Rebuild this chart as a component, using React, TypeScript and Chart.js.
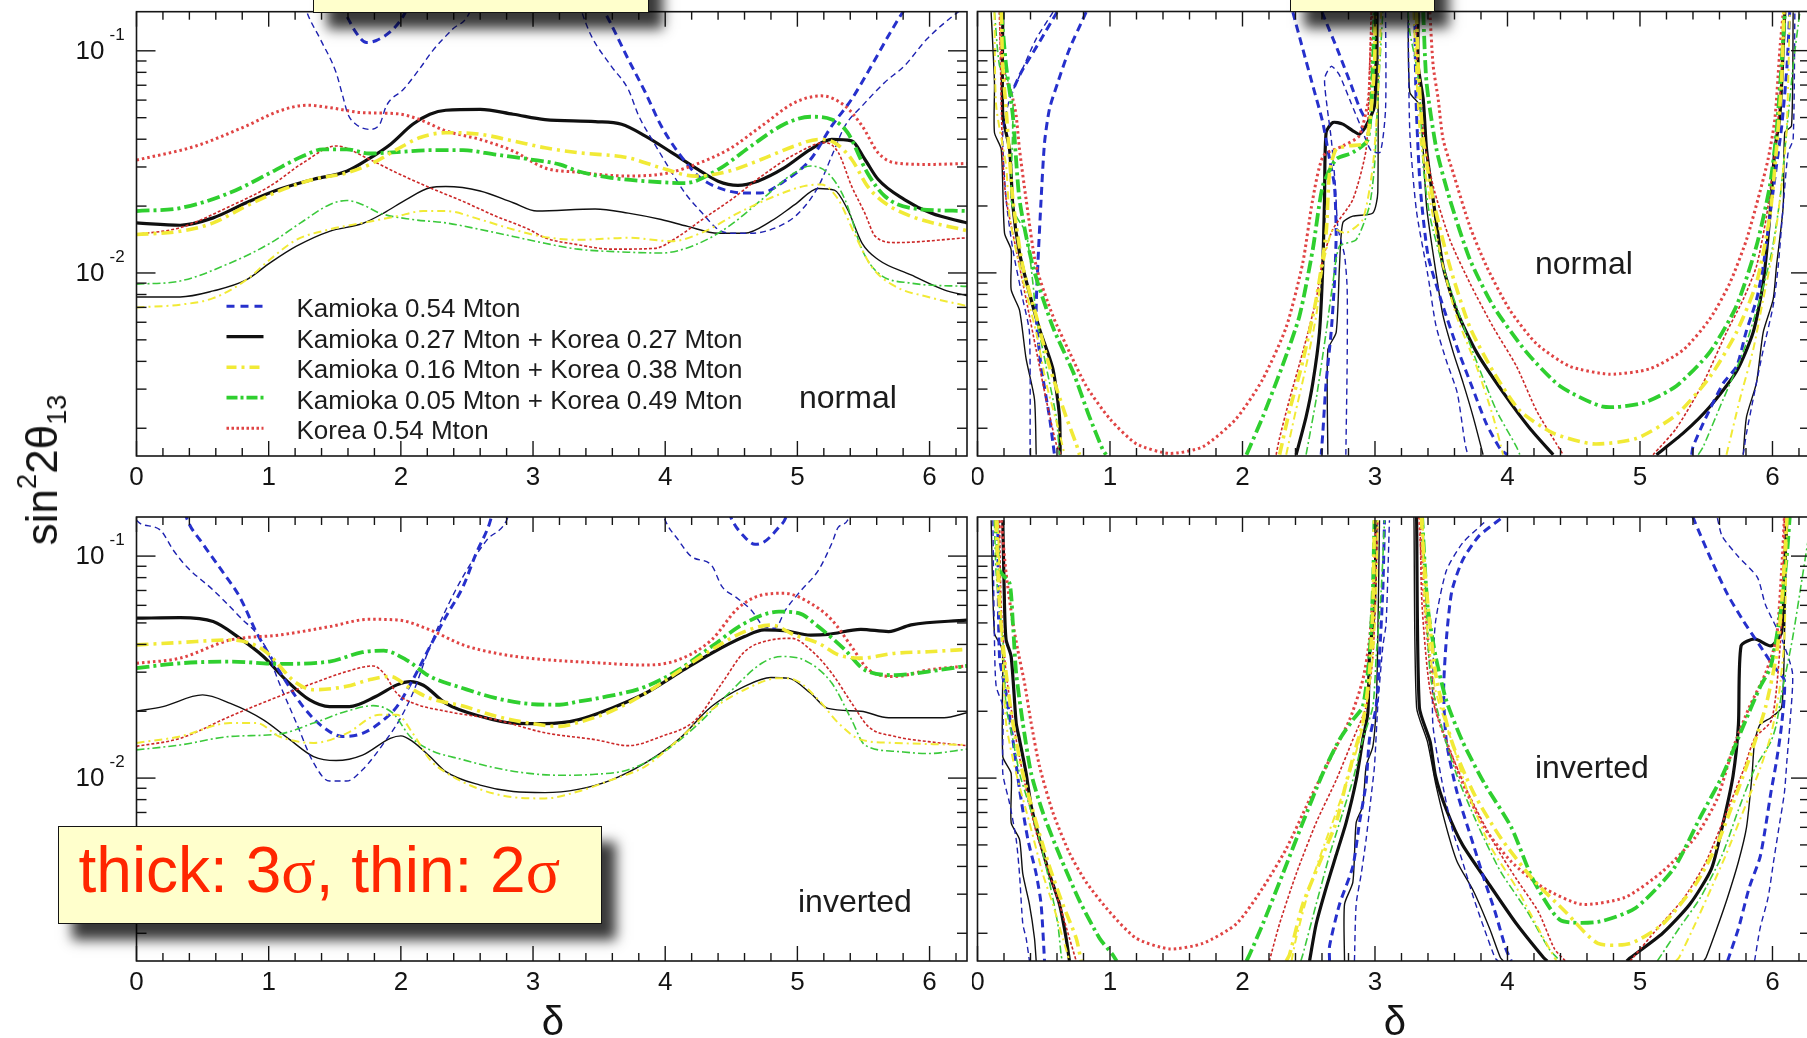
import React, { useEffect, useRef } from "react";
import { Chart, registerables } from "chart.js";
Chart.register(...registerables);

type P = [number, number];

// ---------- axes / ticks ----------
const X_RANGE: [number, number] = [0, 2 * Math.PI];
const Y_RANGE: [number, number] = [0.0015, 0.15];
const X_MAJOR = [0, 1, 2, 3, 4, 5, 6];
const X_TICK_LABELS = ["0", "1", "2", "3", "4", "5", "6"];
const X_MINOR_STEP = 0.2;
const Y_DECADES = [0.01, 0.1];
const Y_EXP_LABELS = ["-2", "-1"];
const Y_MINOR = [0.002, 0.003, 0.004, 0.005, 0.006, 0.007, 0.008, 0.009, 0.02, 0.03, 0.04, 0.05, 0.06, 0.07, 0.08, 0.09];

const LEGEND_LABELS = [
  "Kamioka 0.54 Mton",
  "Kamioka 0.27 Mton + Korea 0.27 Mton",
  "Kamioka 0.16 Mton + Korea 0.38 Mton",
  "Kamioka 0.05 Mton + Korea 0.49 Mton",
  "Korea 0.54 Mton",
];

// ---------- normal hierarchy, left: sin^2 2theta13 vs delta ----------
const nL_kam3a: P[] = [[1.5,0.18],[1.6,0.14],[1.66,0.121],[1.74,0.109],[1.81,0.111],[1.94,0.125],[2.02,0.144],[2.1,0.18]];
const nL_kam3b: P[] = [[3.45,0.18],[3.54,0.15],[3.72,0.0917],[3.85,0.0649],[3.97,0.0459],[4.1,0.0348],[4.25,0.0273],[4.4,0.0242],[4.6,0.0229],[4.72,0.0229],[4.9,0.0259],[5.1,0.0325],[5.26,0.0459],[5.41,0.0605],[5.56,0.0856],[5.7,0.12],[5.8,0.15],[5.9,0.18]];
const nL_kam2a: P[] = [[1.25,0.18],[1.29,0.149],[1.39,0.113],[1.51,0.0798],[1.56,0.0627],[1.6,0.0518],[1.66,0.0467],[1.76,0.0443],[1.84,0.0467],[1.89,0.0565],[2.02,0.0671],[2.14,0.0827],[2.24,0.1],[2.39,0.125],[2.52,0.149],[2.56,0.18]];
const nL_kam2b: P[] = [[3.33,0.18],[3.37,0.149],[3.44,0.117],[3.59,0.0856],[3.72,0.0671],[3.8,0.0509],[3.9,0.0399],[4.02,0.0303],[4.15,0.0229],[4.28,0.0186],[4.4,0.0157],[4.5,0.0151],[4.65,0.0151],[4.86,0.0162],[5.01,0.0186],[5.16,0.0246],[5.26,0.0336],[5.36,0.0459],[5.49,0.0565],[5.66,0.072],[5.81,0.0856],[5.98,0.113],[6.18,0.144],[6.283,0.16]];
const nL_blk3: P[] = [[0,0.0168],[0.33,0.0164],[0.58,0.0177],[0.83,0.0207],[1.08,0.0238],[1.34,0.0264],[1.59,0.0287],[1.76,0.0327],[1.92,0.0379],[2.09,0.0467],[2.22,0.0518],[2.34,0.054],[2.6,0.0545],[2.85,0.0518],[3.09,0.049],[3.47,0.048],[3.67,0.0467],[3.85,0.0413],[4.05,0.0348],[4.25,0.0292],[4.4,0.0259],[4.55,0.0248],[4.7,0.0259],[4.9,0.0297],[5.1,0.036],[5.26,0.0399],[5.41,0.0393],[5.51,0.0325],[5.61,0.0264],[5.81,0.0214],[6.01,0.0186],[6.283,0.0168]];
const nL_blk2: P[] = [[0,0.0078],[0.33,0.0078],[0.58,0.0083],[0.83,0.0093],[1.01,0.0111],[1.21,0.0132],[1.46,0.0154],[1.71,0.0167],[1.87,0.0186],[2.04,0.0214],[2.22,0.0242],[2.34,0.0245],[2.6,0.0234],[2.85,0.0207],[3.03,0.019],[3.47,0.0194],[3.72,0.0186],[3.97,0.0174],[4.17,0.0162],[4.4,0.0151],[4.6,0.0151],[4.8,0.0171],[4.98,0.0203],[5.16,0.024],[5.28,0.0236],[5.38,0.0193],[5.49,0.0136],[5.61,0.0115],[5.86,0.0098],[6.11,0.0084],[6.283,0.0079]];
const nL_yel3: P[] = [[0,0.0149],[0.33,0.0154],[0.58,0.0168],[0.83,0.02],[1.08,0.0234],[1.34,0.0264],[1.59,0.0282],[1.79,0.0313],[1.97,0.036],[2.14,0.0406],[2.34,0.0428],[2.6,0.0421],[2.85,0.0393],[3.09,0.0366],[3.34,0.0348],[3.72,0.033],[3.97,0.0297],[4.23,0.0273],[4.48,0.0287],[4.73,0.0325],[4.98,0.0373],[5.16,0.0399],[5.28,0.0386],[5.41,0.0325],[5.53,0.0246],[5.66,0.0207],[5.86,0.018],[6.283,0.0155]];
const nL_yel2: P[] = [[0,0.007],[0.33,0.0072],[0.58,0.0077],[0.83,0.0093],[1.01,0.0115],[1.21,0.0141],[1.46,0.0157],[1.71,0.0168],[1.97,0.018],[2.17,0.019],[2.34,0.019],[2.6,0.0174],[2.85,0.0157],[3.09,0.0145],[3.34,0.0141],[3.72,0.0144],[4.05,0.0139],[4.3,0.0154],[4.55,0.0186],[4.8,0.0218],[5.05,0.0246],[5.18,0.025],[5.31,0.0214],[5.43,0.0151],[5.56,0.0107],[5.74,0.0087],[5.99,0.0078],[6.283,0.0071]];
const nL_gre3: P[] = [[0,0.019],[0.33,0.0196],[0.71,0.023],[1.01,0.0282],[1.26,0.0336],[1.41,0.036],[1.59,0.036],[1.76,0.0345],[1.97,0.035],[2.22,0.0357],[2.47,0.0357],[2.72,0.0341],[2.97,0.0325],[3.2,0.0308],[3.34,0.0287],[3.59,0.0268],[3.85,0.0259],[4.15,0.0254],[4.4,0.0292],[4.65,0.0373],[4.9,0.0467],[5.1,0.0505],[5.26,0.0491],[5.38,0.0428],[5.53,0.0282],[5.66,0.0222],[5.86,0.0196],[6.283,0.019]];
const nL_gre2: P[] = [[0,0.0089],[0.33,0.0092],[0.71,0.0111],[1.01,0.0136],[1.26,0.0171],[1.46,0.0203],[1.59,0.0212],[1.71,0.0203],[1.84,0.0186],[2.09,0.0174],[2.34,0.0168],[2.6,0.0157],[2.85,0.0146],[3.09,0.0136],[3.34,0.0128],[3.72,0.0124],[3.97,0.0123],[4.23,0.0134],[4.48,0.0162],[4.73,0.0214],[4.96,0.0278],[5.1,0.0303],[5.23,0.0282],[5.36,0.0214],[5.49,0.0127],[5.61,0.01],[5.86,0.009],[6.283,0.0087]];
const nL_kor3: P[] = [[0,0.0322],[0.45,0.0373],[0.83,0.0459],[1.08,0.0536],[1.29,0.0569],[1.46,0.0555],[1.71,0.0527],[1.97,0.0521],[2.14,0.0491],[2.34,0.0436],[2.6,0.0399],[2.85,0.0354],[3.09,0.0297],[3.34,0.0284],[3.72,0.0273],[4.02,0.0282],[4.23,0.0308],[4.48,0.036],[4.73,0.0459],[4.98,0.0585],[5.18,0.0627],[5.36,0.0565],[5.49,0.0459],[5.61,0.0348],[5.74,0.0313],[5.99,0.0308],[6.283,0.0311]];
const nL_kor2: P[] = [[0,0.0149],[0.33,0.016],[0.71,0.02],[1.01,0.0246],[1.26,0.0313],[1.51,0.0373],[1.76,0.0325],[1.97,0.0282],[2.22,0.0242],[2.47,0.021],[2.72,0.018],[2.97,0.0157],[3.09,0.0144],[3.34,0.0134],[3.59,0.0128],[3.92,0.0129],[4.1,0.0146],[4.28,0.0174],[4.5,0.0214],[4.73,0.0273],[4.98,0.0342],[5.21,0.0386],[5.31,0.0348],[5.41,0.0246],[5.51,0.0186],[5.59,0.0146],[5.74,0.0137],[6.283,0.0144]];

// ---------- inverted hierarchy, left ----------
const iL_kam3a: P[] = [[0.34,0.18],[0.38,0.148],[0.5,0.114],[0.66,0.0836],[0.78,0.0656],[0.91,0.045],[1.06,0.0318],[1.26,0.021],[1.41,0.017],[1.56,0.0154],[1.71,0.0159],[1.87,0.0183],[1.97,0.021],[2.09,0.0277],[2.22,0.0391],[2.34,0.0533],[2.47,0.0728],[2.57,0.103],[2.67,0.14],[2.72,0.18]];
const iL_kam3b: P[] = [[4.45,0.18],[4.5,0.148],[4.6,0.122],[4.68,0.113],[4.75,0.116],[4.86,0.135],[4.91,0.148],[4.95,0.18]];
const iL_kam2a: P[] = [[0,0.145],[0.03,0.14],[0.18,0.131],[0.28,0.106],[0.38,0.0895],[0.58,0.0703],[0.78,0.0533],[0.96,0.0405],[1.08,0.0268],[1.21,0.0177],[1.34,0.0117],[1.46,0.0097],[1.59,0.0097],[1.71,0.0109],[1.89,0.0149],[1.99,0.0183],[2.09,0.0241],[2.22,0.0391],[2.34,0.0572],[2.47,0.0808],[2.65,0.118],[2.8,0.145],[2.85,0.18]];
const iL_kam2b: P[] = [[3.95,0.18],[4.0,0.145],[4.1,0.118],[4.2,0.0993],[4.35,0.091],[4.43,0.0728],[4.53,0.0656],[4.65,0.0572],[4.75,0.0481],[4.83,0.0473],[4.91,0.0572],[5.03,0.0703],[5.16,0.0865],[5.26,0.114],[5.31,0.135],[5.38,0.145],[5.42,0.18]];
const iL_blk3: P[] = [[0,0.0525],[0.33,0.0528],[0.58,0.0507],[0.78,0.0427],[0.96,0.0353],[1.13,0.0277],[1.31,0.0225],[1.46,0.021],[1.61,0.021],[1.81,0.0233],[1.97,0.0263],[2.07,0.0272],[2.17,0.0262],[2.34,0.0217],[2.6,0.019],[2.85,0.0177],[3.09,0.0176],[3.34,0.0183],[3.59,0.0206],[3.85,0.0241],[4.1,0.0297],[4.35,0.0365],[4.6,0.0434],[4.75,0.0465],[4.9,0.0462],[5.1,0.0441],[5.23,0.0444],[5.48,0.0468],[5.69,0.0457],[5.86,0.049],[6.283,0.0515]];
const iL_blk2: P[] = [[0,0.02],[0.2,0.021],[0.5,0.0237],[0.71,0.0217],[0.96,0.0183],[1.16,0.0149],[1.34,0.0125],[1.51,0.012],[1.71,0.0127],[1.92,0.0151],[2.0,0.0155],[2.09,0.0146],[2.22,0.0125],[2.34,0.0107],[2.6,0.0093],[2.85,0.0087],[3.09,0.0086],[3.34,0.0089],[3.59,0.0098],[3.85,0.0117],[4.1,0.0149],[4.35,0.021],[4.6,0.0259],[4.8,0.0284],[4.93,0.0282],[5.1,0.0241],[5.23,0.0206],[5.48,0.02],[5.69,0.0187],[6.11,0.0187],[6.283,0.0197]];
const iL_yel3: P[] = [[0,0.0398],[0.33,0.0408],[0.71,0.0419],[0.96,0.0378],[1.21,0.0268],[1.34,0.025],[1.59,0.0259],[1.76,0.0277],[1.92,0.0287],[2.07,0.0254],[2.22,0.0229],[2.47,0.0211],[2.72,0.019],[2.97,0.0177],[3.2,0.0171],[3.34,0.0178],[3.59,0.02],[3.85,0.0241],[4.1,0.0302],[4.35,0.0378],[4.6,0.0457],[4.8,0.0489],[4.98,0.0441],[5.16,0.0405],[5.31,0.0359],[5.48,0.0347],[5.74,0.0365],[5.99,0.0371],[6.283,0.038]];
const iL_yel2: P[] = [[0,0.0144],[0.33,0.0154],[0.71,0.0177],[0.91,0.0177],[1.08,0.0154],[1.34,0.0144],[1.59,0.0159],[1.84,0.0193],[1.97,0.0193],[2.09,0.0159],[2.22,0.0121],[2.34,0.0106],[2.6,0.0089],[2.85,0.0082],[3.09,0.0081],[3.34,0.0087],[3.59,0.0098],[3.85,0.0113],[4.1,0.0149],[4.35,0.0203],[4.6,0.025],[4.86,0.0282],[4.98,0.0277],[5.16,0.0225],[5.31,0.0177],[5.48,0.0149],[5.74,0.0144],[6.283,0.0141]];
const iL_gre3: P[] = [[0,0.0313],[0.33,0.0329],[0.71,0.0335],[1.08,0.0327],[1.46,0.0335],[1.71,0.0369],[1.87,0.0375],[2.04,0.0341],[2.22,0.0287],[2.47,0.0254],[2.72,0.0229],[2.97,0.0216],[3.2,0.0214],[3.34,0.0221],[3.59,0.0235],[3.85,0.0258],[4.1,0.0307],[4.35,0.0391],[4.6,0.0498],[4.86,0.0562],[5.01,0.0553],[5.16,0.048],[5.36,0.0378],[5.51,0.0307],[5.74,0.0291],[5.99,0.0302],[6.283,0.032]];
const iL_gre2: P[] = [[0,0.0134],[0.33,0.0141],[0.71,0.0154],[1.08,0.0158],[1.34,0.0177],[1.59,0.02],[1.79,0.0212],[1.94,0.0196],[2.07,0.0154],[2.22,0.0134],[2.47,0.0121],[2.72,0.0111],[2.97,0.0105],[3.2,0.0103],[3.47,0.0104],[3.72,0.0109],[3.97,0.0129],[4.23,0.0171],[4.48,0.0241],[4.73,0.0329],[4.88,0.0353],[5.06,0.0338],[5.26,0.0268],[5.41,0.0183],[5.51,0.0141],[5.74,0.0132],[5.99,0.0129],[6.283,0.0135]];
const iL_kor3: P[] = [[0,0.0329],[0.33,0.0347],[0.71,0.0419],[1.08,0.0441],[1.46,0.0481],[1.76,0.0519],[1.97,0.0516],[2.22,0.0465],[2.47,0.0398],[2.72,0.0365],[2.97,0.0347],[3.2,0.0338],[3.47,0.0331],[3.85,0.0323],[4.1,0.0341],[4.35,0.0419],[4.55,0.0582],[4.73,0.0668],[4.9,0.068],[5.08,0.0623],[5.26,0.0516],[5.41,0.0391],[5.54,0.0307],[5.74,0.0287],[5.99,0.0307],[6.283,0.032]];
const iL_kor2: P[] = [[0,0.0139],[0.33,0.0151],[0.71,0.019],[1.01,0.0225],[1.34,0.0268],[1.59,0.0302],[1.79,0.032],[1.87,0.0297],[1.97,0.0241],[2.09,0.0218],[2.34,0.02],[2.72,0.0183],[3.09,0.016],[3.47,0.0149],[3.72,0.014],[3.97,0.0154],[4.23,0.0183],[4.43,0.0268],[4.6,0.0371],[4.8,0.0419],[4.96,0.0426],[5.1,0.0378],[5.26,0.0297],[5.41,0.0218],[5.54,0.017],[5.74,0.0154],[5.99,0.0146],[6.283,0.014]];

// ---------- normal hierarchy, right (contours) ----------
const nR_kam3a: P[] = [[0.82,0.149],[0.694,0.1017],[0.606,0.0719],[0.543,0.0546],[0.506,0.0386],[0.48,0.0214],[0.455,0.0107],[0.443,0.0064],[0.48,0.0038],[0.543,0.00225],[0.581,0.00152]];
const nR_kam3a2: P[] = [[0.6,0.149],[0.47,0.11],[0.33,0.08],[0.26,0.065]];
const nR_kam3b: P[] = [[2.38,0.149],[2.455,0.1017],[2.531,0.0695],[2.606,0.0475],[2.657,0.0325],[2.694,0.0246],[2.707,0.0151],[2.694,0.009],[2.669,0.0054],[2.631,0.0032],[2.606,0.0019],[2.594,0.00152]];
const nR_kam3b2: P[] = [[2.6,0.149],[2.72,0.1],[2.82,0.07],[2.88,0.056],[2.92,0.05]];
const nR_kam3c: P[] = [[3.3,0.149],[3.31,0.06],[3.34,0.025],[3.4,0.012],[3.5,0.0075],[3.62,0.0046],[3.73,0.0031],[3.84,0.0021],[3.95,0.0016],[4.0,0.00152]];
const nR_kam3d: P[] = [[5.39,0.00152],[5.4,0.00165],[5.5,0.00225],[5.63,0.0032],[5.73,0.0038],[5.8,0.0054],[5.88,0.0076],[5.93,0.0107],[5.98,0.018],[6.03,0.0303],[6.07,0.0459],[6.11,0.0856],[6.13,0.149]];
const nR_kam2a: P[] = [[0.57,0.149],[0.443,0.113],[0.317,0.077],[0.242,0.0605],[0.191,0.0428],[0.216,0.0214],[0.267,0.0127],[0.342,0.0076],[0.392,0.0054],[0.397,0.00152]];
const nR_kam2b: P[] = [[3.08,0.149],[3.08,0.055],[3.04,0.035],[2.97,0.0355],[2.89,0.046],[2.82,0.058],[2.73,0.078],[2.67,0.085],[2.62,0.075],[2.64,0.055],[2.67,0.04],[2.7,0.025],[2.72,0.016],[2.77,0.012],[2.79,0.0085],[2.79,0.004],[2.78,0.00152]];
const nR_kam2c: P[] = [[3.25,0.149],[3.263,0.0428],[3.313,0.019],[3.4,0.0097],[3.46,0.0058],[3.54,0.004],[3.62,0.0029],[3.68,0.0017],[3.7,0.00152]];
const nR_kam2d: P[] = [[5.779,0.00152],[5.804,0.0019],[5.854,0.0027],[5.93,0.0045],[6.005,0.0071],[6.043,0.0107],[6.081,0.02],[6.118,0.0348],[6.156,0.0399],[6.169,0.149]];
const nR_blk3a: P[] = [[0.191,0.149],[0.191,0.0509],[0.242,0.036],[0.267,0.02],[0.317,0.0123],[0.392,0.0081],[0.468,0.0056],[0.569,0.0037],[0.619,0.00225],[0.624,0.00152]];
const nR_blk3b: P[] = [[2.405,0.00152],[2.48,0.00225],[2.531,0.0032],[2.581,0.0054],[2.606,0.0107],[2.619,0.0214],[2.631,0.0428],[2.682,0.0475],[2.757,0.0467],[2.833,0.0436],[2.883,0.0421],[2.933,0.0459],[2.996,0.0565],[3.009,0.1017],[3.014,0.149]];
const nR_blk3c: P[] = [[3.326,0.149],[3.326,0.0856],[3.364,0.0605],[3.389,0.036],[3.439,0.0214],[3.514,0.0107],[3.615,0.0068],[3.766,0.0044],[3.967,0.0029],[4.168,0.002],[4.345,0.00152]];
const nR_blk3d: P[] = [[5.124,0.00152],[5.326,0.0019],[5.527,0.0025],[5.728,0.0036],[5.854,0.0054],[5.93,0.009],[5.98,0.018],[6.018,0.036],[6.056,0.0509],[6.093,0.149]];
const nR_blk2a: P[] = [[0.103,0.149],[0.128,0.0719],[0.128,0.0428],[0.179,0.036],[0.204,0.0151],[0.254,0.0127],[0.254,0.0084],[0.317,0.0068],[0.367,0.0041],[0.43,0.0027],[0.443,0.00152]];
const nR_blk2b: P[] = [[2.644,0.00152],[2.644,0.0045],[2.707,0.0054],[2.732,0.0107],[2.757,0.0168],[2.833,0.018],[2.984,0.0186],[3.021,0.023],[3.021,0.149]];
const nR_blk2c: P[] = [[3.25,0.149],[3.263,0.0649],[3.338,0.0565],[3.389,0.02],[3.464,0.0097],[3.514,0.0064],[3.59,0.0044],[3.665,0.0032],[3.741,0.00225],[3.816,0.00152]];
const nR_blk2d: P[] = [[5.779,0.00152],[5.804,0.00225],[5.879,0.0032],[5.93,0.0054],[6.005,0.0076],[6.03,0.0107],[6.081,0.02],[6.093,0.0428],[6.144,0.0459],[6.156,0.149]];
const nR_yel3a: P[] = [[0.18,0.149],[0.19,0.0856],[0.216,0.0546],[0.267,0.0214],[0.342,0.0107],[0.443,0.0064],[0.543,0.0038],[0.669,0.00225],[0.745,0.0017],[0.77,0.00152]];
const nR_yel3b: P[] = [[2.28,0.00152],[2.355,0.0024],[2.455,0.004],[2.556,0.0076],[2.631,0.0151],[2.657,0.0282],[2.707,0.036],[2.808,0.0373],[2.933,0.0386],[2.996,0.0856],[3.0,0.149]];
const nR_yel3c: P[] = [[3.313,0.149],[3.326,0.0856],[3.364,0.0399],[3.439,0.0214],[3.565,0.0107],[3.716,0.0057],[3.892,0.0036],[4.093,0.0024],[4.345,0.0019],[4.646,0.0017],[4.974,0.0018],[5.275,0.0023],[5.527,0.0034],[5.728,0.0054],[5.879,0.009],[5.98,0.018],[6.03,0.036],[6.068,0.0719],[6.086,0.149]];
const nR_yel2a: P[] = [[0.128,0.149],[0.141,0.0565],[0.216,0.0303],[0.242,0.018],[0.317,0.0107],[0.443,0.0054],[0.518,0.0032],[0.619,0.0019],[0.657,0.00152]];
const nR_yel2b: P[] = [[2.33,0.00152],[2.392,0.00225],[2.48,0.0038],[2.556,0.0064],[2.606,0.0107],[2.682,0.0157],[2.782,0.0151],[2.908,0.0174],[2.984,0.0303],[3.021,0.0605],[3.047,0.149]];
const nR_yel2c: P[] = [[3.29,0.149],[3.338,0.0428],[3.414,0.0214],[3.514,0.0107],[3.615,0.0064],[3.766,0.0038],[3.892,0.00225],[3.967,0.00152]];
const nR_yel2d: P[] = [[5.653,0.00152],[5.754,0.0027],[5.854,0.0045],[5.93,0.0076],[6.005,0.0127],[6.056,0.0214],[6.106,0.0428],[6.131,0.149]];
const nR_gre3a: P[] = [[0.18,0.149],[0.216,0.0856],[0.267,0.0509],[0.317,0.0214],[0.418,0.0107],[0.569,0.0057],[0.72,0.0036],[0.845,0.00225],[0.946,0.0016],[0.97,0.00152]];
const nR_gre3b: P[] = [[2.03,0.00152],[2.153,0.00225],[2.3,0.0038],[2.43,0.0064],[2.53,0.0127],[2.606,0.0246],[2.707,0.0325],[2.833,0.0348],[2.946,0.0399],[2.984,0.0856],[2.996,0.149]];
const nR_gre3c: P[] = [[3.364,0.149],[3.389,0.0719],[3.464,0.036],[3.565,0.0214],[3.716,0.0115],[3.892,0.0071],[4.143,0.0044],[4.395,0.0031],[4.722,0.0025],[5.024,0.0026],[5.275,0.0031],[5.527,0.0044],[5.728,0.0071],[5.879,0.0132],[5.98,0.0246],[6.03,0.0428],[6.068,0.0856],[6.093,0.149]];
const nR_gre2a: P[] = [[0.128,0.149],[0.166,0.0856],[0.216,0.0771],[0.267,0.0605],[0.254,0.0214],[0.292,0.018],[0.367,0.0151],[0.418,0.009],[0.443,0.0064],[0.518,0.0038],[0.594,0.00225],[0.619,0.00152]];
const nR_gre2b: P[] = [[2.48,0.00152],[2.556,0.0027],[2.631,0.0054],[2.682,0.009],[2.732,0.0132],[2.858,0.0141],[2.958,0.02],[2.996,0.0303],[3.021,0.0605],[3.059,0.149]];
const nR_gre2c: P[] = [[3.25,0.149],[3.263,0.121],[3.313,0.0856],[3.338,0.0649],[3.364,0.0303],[3.414,0.018],[3.514,0.0107],[3.64,0.0064],[3.766,0.004],[3.917,0.0024],[4.068,0.00165],[4.093,0.00152]];
const nR_gre2d: P[] = [[5.44,0.00152],[5.477,0.00165],[5.628,0.0027],[5.779,0.0044],[5.904,0.0076],[5.993,0.0123],[6.056,0.0214],[6.106,0.0428],[6.156,0.0856],[6.206,0.149]];
const nR_kor3a: P[] = [[0.17,0.149],[0.19,0.0856],[0.267,0.0605],[0.292,0.0509],[0.317,0.036],[0.367,0.0214],[0.443,0.0107],[0.569,0.0064],[0.694,0.0044],[0.82,0.0031],[1.0,0.0022],[1.2,0.0017],[1.45,0.00154],[1.7,0.00165],[1.95,0.0022],[2.15,0.0033],[2.33,0.0057],[2.455,0.0111],[2.53,0.0214],[2.61,0.0336],[2.76,0.0373],[2.88,0.0413],[2.95,0.0605],[2.97,0.1017],[2.98,0.149]];
const nR_kor3b: P[] = [[3.414,0.149],[3.439,0.0856],[3.477,0.0605],[3.514,0.0399],[3.59,0.0282],[3.716,0.0162],[3.842,0.0107],[4.018,0.0068],[4.219,0.0048],[4.47,0.0038],[4.772,0.0035],[5.074,0.0037],[5.326,0.0045],[5.527,0.0062],[5.678,0.009],[5.804,0.0141],[5.904,0.023],[5.967,0.0325],[6.018,0.0492],[6.056,0.1017],[6.081,0.149]];
const nR_kor2a: P[] = [[0.166,0.149],[0.179,0.0605],[0.191,0.0325],[0.216,0.0214],[0.292,0.0127],[0.367,0.0076],[0.443,0.0045],[0.518,0.0027],[0.594,0.0017],[0.631,0.00152]];
const nR_kor2b: P[] = [[2.254,0.00152],[2.279,0.0018],[2.355,0.0027],[2.455,0.0044],[2.556,0.0076],[2.606,0.0115],[2.682,0.0157],[2.833,0.0214],[2.933,0.036],[2.958,0.08],[2.971,0.149]];
const nR_kor2c: P[] = [[3.313,0.149],[3.313,0.1017],[3.364,0.0428],[3.439,0.0246],[3.565,0.0141],[3.716,0.009],[3.892,0.0057],[4.068,0.0038],[4.219,0.0024],[4.37,0.0017],[4.42,0.00152]];
const nR_kor2d: P[] = [[5.099,0.00152],[5.275,0.002],[5.477,0.0032],[5.653,0.0054],[5.779,0.0076],[5.879,0.0107],[5.955,0.018],[6.005,0.0303],[6.056,0.0605],[6.093,0.149]];

// ---------- inverted hierarchy, right (contours) ----------
const iR_kam3a: P[] = [[0.153,0.145],[0.166,0.0353],[0.216,0.0241],[0.267,0.0149],[0.317,0.0089],[0.38,0.0053],[0.443,0.0037],[0.48,0.0027],[0.506,0.0015]];
const iR_kam3b: P[] = [[2.657,0.0015],[2.657,0.00175],[2.732,0.0027],[2.833,0.004],[2.883,0.0063],[2.933,0.0095],[2.958,0.0149],[3.009,0.021],[3.034,0.0353],[3.059,0.0703],[3.072,0.145]];
const iR_kam3c: P[] = [[3.947,0.147],[3.784,0.123],[3.661,0.0958],[3.58,0.0696],[3.539,0.0424],[3.518,0.0248],[3.539,0.0146],[3.62,0.0086],[3.743,0.005],[3.824,0.0035],[3.906,0.0025],[3.988,0.0017],[4.029,0.0015]];
const iR_kam3d: P[] = [[5.661,0.0015],[5.743,0.0021],[5.824,0.0032],[5.906,0.0044],[5.947,0.006],[5.988,0.0086],[6.029,0.0118],[6.069,0.0174],[6.09,0.0276],[6.008,0.0319],[5.906,0.0394],[5.784,0.0506],[5.661,0.0672],[5.539,0.0958],[5.416,0.1416],[5.396,0.152]];
const iR_kam2a: P[] = [[0.116,0.145],[0.128,0.0419],[0.141,0.0259],[0.191,0.021],[0.191,0.0105],[0.242,0.0077],[0.292,0.0053],[0.317,0.0037],[0.342,0.0022],[0.367,0.0019],[0.392,0.0015]];
const iR_kam2b: P[] = [[2.845,0.0015],[2.858,0.0027],[2.896,0.0037],[2.933,0.0053],[2.971,0.0083],[2.996,0.0113],[3.021,0.021],[3.059,0.0391],[3.084,0.0498],[3.109,0.145]];
const iR_kam2c: P[] = [[3.824,0.1416],[3.661,0.1145],[3.539,0.0861],[3.457,0.0506],[3.437,0.0297],[3.437,0.0174],[3.498,0.0102],[3.58,0.006],[3.661,0.0042],[3.743,0.0029],[3.824,0.0021],[3.906,0.00155],[3.93,0.0015]];
const iR_kam2d: P[] = [[5.865,0.0015],[5.906,0.0021],[5.967,0.0029],[6.008,0.0042],[6.049,0.006],[6.09,0.0086],[6.11,0.0122],[6.131,0.0174],[6.151,0.0297],[6.069,0.0424],[5.947,0.0604],[5.886,0.0802],[5.743,0.0993],[5.62,0.123],[5.58,0.152]];
const iR_blk3a: P[] = [[0.191,0.145],[0.204,0.0592],[0.216,0.0419],[0.254,0.0353],[0.292,0.0177],[0.317,0.0149],[0.367,0.0105],[0.405,0.0075],[0.468,0.0053],[0.543,0.0037],[0.619,0.0027],[0.669,0.0019],[0.694,0.0015]];
const iR_blk3b: P[] = [[2.506,0.0015],[2.556,0.0022],[2.631,0.0032],[2.707,0.0045],[2.782,0.0063],[2.858,0.0098],[2.908,0.0149],[2.946,0.0196],[2.958,0.0353],[2.996,0.0592],[3.009,0.145]];
const iR_blk3c: P[] = [[3.314,0.15],[3.335,0.0208],[3.416,0.0146],[3.457,0.0102],[3.539,0.0072],[3.661,0.005],[3.865,0.0033],[4.069,0.0022],[4.273,0.00155],[4.3,0.0015]];
const iR_blk3d: P[] = [[4.9,0.0015],[4.927,0.00155],[5.171,0.002],[5.376,0.0027],[5.539,0.0039],[5.62,0.006],[5.702,0.0102],[5.743,0.0174],[5.763,0.0394],[5.865,0.0424],[5.988,0.0394],[6.069,0.0454],[6.09,0.0861],[6.11,0.15]];
const iR_blk2a: P[] = [[0.103,0.145],[0.128,0.0449],[0.179,0.0391],[0.191,0.034],[0.191,0.0125],[0.254,0.0105],[0.254,0.0063],[0.317,0.0053],[0.342,0.0037],[0.392,0.0027],[0.43,0.0019],[0.443,0.0015]];
const iR_blk2b: P[] = [[2.77,0.0015],[2.77,0.0027],[2.833,0.0034],[2.858,0.0063],[2.908,0.0075],[2.933,0.0113],[2.984,0.0139],[3.009,0.021],[3.021,0.0419],[3.034,0.145]];
const iR_blk2c: P[] = [[3.294,0.15],[3.314,0.0208],[3.396,0.0146],[3.457,0.0095],[3.539,0.006],[3.62,0.0042],[3.743,0.0031],[3.865,0.0021],[3.947,0.00155],[3.97,0.0015]];
const iR_blk2d: P[] = [[5.48,0.0015],[5.498,0.00155],[5.58,0.0021],[5.661,0.0029],[5.743,0.0042],[5.804,0.006],[5.845,0.0102],[5.865,0.0146],[5.906,0.0174],[5.988,0.0187],[6.069,0.0208],[6.09,0.0424],[6.11,0.15]];
const iR_yel3a: P[] = [[0.141,0.145],[0.166,0.0592],[0.216,0.0297],[0.267,0.0177],[0.342,0.0105],[0.443,0.0063],[0.543,0.004],[0.644,0.0027],[0.745,0.0019],[0.782,0.0015]];
const iR_yel3b: P[] = [[2.33,0.0015],[2.355,0.0016],[2.455,0.0027],[2.606,0.0045],[2.707,0.0063],[2.782,0.0095],[2.858,0.0139],[2.908,0.0177],[2.958,0.0297],[2.984,0.0592],[2.996,0.145]];
const iR_yel3c: P[] = [[3.35,0.15],[3.376,0.0861],[3.457,0.0297],[3.58,0.0146],[3.743,0.0086],[3.947,0.0054],[4.192,0.0035],[4.437,0.0025],[4.682,0.0018],[4.927,0.0018],[5.171,0.0022],[5.416,0.0033],[5.58,0.005],[5.702,0.0077],[5.824,0.0122],[5.947,0.0208],[6.029,0.0355],[6.069,0.0604],[6.11,0.15]];
const iR_yel2a: P[] = [[0.153,0.145],[0.179,0.0498],[0.216,0.0177],[0.292,0.0105],[0.392,0.0063],[0.493,0.0037],[0.569,0.0027],[0.644,0.0019],[0.694,0.0015]];
const iR_yel2b: P[] = [[2.37,0.0015],[2.405,0.0019],[2.506,0.0032],[2.606,0.0048],[2.707,0.007],[2.808,0.0105],[2.883,0.0149],[2.933,0.021],[2.984,0.0353],[3.009,0.0703],[3.021,0.145]];
const iR_yel2c: P[] = [[3.36,0.15],[3.376,0.0604],[3.457,0.0248],[3.58,0.0146],[3.702,0.0086],[3.865,0.005],[4.069,0.0032],[4.233,0.0021],[4.355,0.00155],[4.37,0.0015]];
const iR_yel2d: P[] = [[5.27,0.0015],[5.294,0.00155],[5.416,0.0022],[5.539,0.0032],[5.661,0.0047],[5.784,0.0072],[5.906,0.011],[5.988,0.0156],[6.049,0.024],[6.09,0.0424],[6.11,0.15]];
const iR_gre3a: P[] = [[0.141,0.145],[0.166,0.0865],[0.242,0.0754],[0.267,0.0498],[0.292,0.0297],[0.342,0.0177],[0.405,0.0105],[0.493,0.007],[0.619,0.0045],[0.77,0.0028],[0.921,0.0019],[1.021,0.0016],[1.05,0.0015]];
const iR_gre3b: P[] = [[2.03,0.0015],[2.053,0.0016],[2.153,0.0022],[2.304,0.0037],[2.455,0.0063],[2.606,0.0105],[2.732,0.0149],[2.833,0.0183],[2.908,0.021],[2.958,0.0353],[2.984,0.0703],[2.996,0.145]];
const iR_gre3c: P[] = [[3.355,0.152],[3.396,0.0604],[3.457,0.0355],[3.539,0.0223],[3.661,0.0146],[3.824,0.0095],[4.029,0.006],[4.192,0.0035],[4.396,0.0023],[4.682,0.00225],[4.967,0.0026],[5.253,0.0039],[5.457,0.0067],[5.62,0.0102],[5.784,0.0174],[5.906,0.0257],[5.988,0.0319],[6.069,0.0604],[6.11,0.103],[6.13,0.15]];
const iR_gre2a: P[] = [[0.128,0.145],[0.141,0.0836],[0.191,0.0419],[0.216,0.021],[0.267,0.0149],[0.317,0.0105],[0.392,0.0075],[0.468,0.0053],[0.543,0.0034],[0.606,0.0022],[0.631,0.0016],[0.64,0.0015]];
const iR_gre2b: P[] = [[2.44,0.0015],[2.455,0.0016],[2.556,0.0027],[2.657,0.0045],[2.757,0.007],[2.833,0.0098],[2.908,0.0149],[2.984,0.021],[3.009,0.0353],[3.047,0.0703],[3.072,0.145]];
const iR_gre2c: P[] = [[3.36,0.15],[3.376,0.0861],[3.416,0.0297],[3.498,0.0174],[3.62,0.0102],[3.784,0.006],[3.947,0.0038],[4.151,0.0025],[4.314,0.0017],[4.396,0.0015]];
const iR_gre2d: P[] = [[5.131,0.0015],[5.294,0.0021],[5.457,0.0029],[5.62,0.0045],[5.743,0.0072],[5.865,0.011],[5.988,0.0146],[6.029,0.0174],[6.069,0.024],[6.151,0.0424],[6.233,0.0861],[6.28,0.13]];
const iR_kor3a: P[] = [[0.179,0.145],[0.216,0.0836],[0.267,0.0498],[0.304,0.0378],[0.355,0.0268],[0.405,0.0177],[0.468,0.0113],[0.569,0.007],[0.694,0.0046],[0.82,0.0034],[0.996,0.0025],[1.197,0.0019],[1.449,0.0017],[1.7,0.0018],[1.952,0.0022],[2.153,0.0032],[2.33,0.0048],[2.506,0.008],[2.657,0.0121],[2.808,0.0183],[2.908,0.0277],[2.958,0.0419],[2.996,0.0836],[3.009,0.145]];
const iR_kor3b: P[] = [[3.335,0.15],[3.375,0.0604],[3.457,0.0208],[3.539,0.0146],[3.661,0.0095],[3.824,0.006],[4.029,0.0042],[4.273,0.0032],[4.559,0.0027],[4.886,0.0029],[5.171,0.0038],[5.416,0.0054],[5.58,0.008],[5.702,0.0136],[5.824,0.0208],[5.947,0.0296],[6.029,0.0424],[6.069,0.0861],[6.09,0.15]];
const iR_kor2a: P[] = [[0.166,0.145],[0.179,0.0592],[0.216,0.0297],[0.292,0.0149],[0.367,0.0089],[0.443,0.0057],[0.543,0.0037],[0.619,0.0027],[0.694,0.0019],[0.745,0.0015]];
const iR_kor2b: P[] = [[2.203,0.0015],[2.279,0.0022],[2.405,0.0037],[2.556,0.0063],[2.707,0.0098],[2.833,0.0149],[2.933,0.021],[2.984,0.0353],[3.009,0.0836],[3.021,0.145]];
const iR_kor2c: P[] = [[3.34,0.15],[3.355,0.0604],[3.416,0.0248],[3.539,0.0146],[3.702,0.0086],[3.906,0.005],[4.069,0.0035],[4.233,0.0025],[4.355,0.0017],[4.437,0.0015]];
const iR_kor2d: P[] = [[4.927,0.0015],[5.131,0.0021],[5.335,0.0029],[5.498,0.0042],[5.661,0.0072],[5.784,0.011],[5.865,0.0151],[5.988,0.018],[6.029,0.0248],[6.069,0.0506],[6.09,0.15]];

// ---------- styles ----------
type StyleKey = "kam3" | "kam2" | "k27_3" | "k27_2" | "k16_3" | "k16_2" | "k05_3" | "k05_2" | "kor3" | "kor2";
const STY: Record<string, { color: string; width: number; dash: number[] }> = {
  kam3: { color: "#2630cc", width: 3.0, dash: [8, 5] },
  kam2: { color: "#1e22b0", width: 1.4, dash: [6, 4] },
  k27_3: { color: "#101010", width: 3.2, dash: [] },
  k27_2: { color: "#101010", width: 1.4, dash: [] },
  k16_3: { color: "#f1ea36", width: 3.6, dash: [12, 5, 3, 5] },
  k16_2: { color: "#f1ea36", width: 2.0, dash: [8, 4, 2, 4] },
  k05_3: { color: "#2fcf2f", width: 3.8, dash: [13, 4, 3, 4] },
  k05_2: { color: "#3bc93b", width: 1.6, dash: [8, 3, 2, 3] },
  kor3: { color: "#e04444", width: 3.0, dash: [2.5, 3] },
  kor2: { color: "#cc2828", width: 1.6, dash: [3, 2] },
};
const LEGEND_KEYS: StyleKey[] = ["kam3", "k27_3", "k16_3", "k05_3", "kor3"];
const LEGEND_DASH = [[8, 6], [], [10, 5, 3, 5], [11, 3, 3, 3], [2.5, 2.5]];

type Curve = [P[], StyleKey];

const TL_CURVES: Curve[] = [
  [nL_yel3, "k16_3"], [nL_yel2, "k16_2"], [nL_gre3, "k05_3"], [nL_gre2, "k05_2"],
  [nL_kor3, "kor3"], [nL_kor2, "kor2"],
  [nL_kam3a, "kam3"], [nL_kam3b, "kam3"], [nL_kam2a, "kam2"], [nL_kam2b, "kam2"],
  [nL_blk3, "k27_3"], [nL_blk2, "k27_2"],
];
const BL_CURVES: Curve[] = [
  [iL_yel3, "k16_3"], [iL_yel2, "k16_2"], [iL_gre3, "k05_3"], [iL_gre2, "k05_2"],
  [iL_kor3, "kor3"], [iL_kor2, "kor2"],
  [iL_kam3a, "kam3"], [iL_kam3b, "kam3"], [iL_kam2a, "kam2"], [iL_kam2b, "kam2"],
  [iL_blk3, "k27_3"], [iL_blk2, "k27_2"],
];
const TR_CURVES: Curve[] = [
  [nR_yel3a, "k16_3"], [nR_yel3b, "k16_3"], [nR_yel3c, "k16_3"],
  [nR_yel2a, "k16_2"], [nR_yel2b, "k16_2"], [nR_yel2c, "k16_2"], [nR_yel2d, "k16_2"],
  [nR_gre3a, "k05_3"], [nR_gre3b, "k05_3"], [nR_gre3c, "k05_3"],
  [nR_gre2a, "k05_2"], [nR_gre2b, "k05_2"], [nR_gre2c, "k05_2"], [nR_gre2d, "k05_2"],
  [nR_kor3a, "kor3"], [nR_kor3b, "kor3"],
  [nR_kor2a, "kor2"], [nR_kor2b, "kor2"], [nR_kor2c, "kor2"], [nR_kor2d, "kor2"],
  [nR_kam3a, "kam3"], [nR_kam3a2, "kam3"], [nR_kam3b, "kam3"], [nR_kam3b2, "kam3"], [nR_kam3c, "kam3"], [nR_kam3d, "kam3"],
  [nR_kam2a, "kam2"], [nR_kam2b, "kam2"], [nR_kam2c, "kam2"], [nR_kam2d, "kam2"],
  [nR_blk3a, "k27_3"], [nR_blk3b, "k27_3"], [nR_blk3c, "k27_3"], [nR_blk3d, "k27_3"],
  [nR_blk2a, "k27_2"], [nR_blk2b, "k27_2"], [nR_blk2c, "k27_2"], [nR_blk2d, "k27_2"],
];
const BR_CURVES: Curve[] = [
  [iR_yel3a, "k16_3"], [iR_yel3b, "k16_3"], [iR_yel3c, "k16_3"],
  [iR_yel2a, "k16_2"], [iR_yel2b, "k16_2"], [iR_yel2c, "k16_2"], [iR_yel2d, "k16_2"],
  [iR_gre3a, "k05_3"], [iR_gre3b, "k05_3"], [iR_gre3c, "k05_3"],
  [iR_gre2a, "k05_2"], [iR_gre2b, "k05_2"], [iR_gre2c, "k05_2"], [iR_gre2d, "k05_2"],
  [iR_kor3a, "kor3"], [iR_kor3b, "kor3"],
  [iR_kor2a, "kor2"], [iR_kor2b, "kor2"], [iR_kor2c, "kor2"], [iR_kor2d, "kor2"],
  [iR_kam3a, "kam3"], [iR_kam3b, "kam3"], [iR_kam3c, "kam3"], [iR_kam3d, "kam3"],
  [iR_kam2a, "kam2"], [iR_kam2b, "kam2"], [iR_kam2c, "kam2"], [iR_kam2d, "kam2"],
  [iR_blk3a, "k27_3"], [iR_blk3b, "k27_3"], [iR_blk3c, "k27_3"], [iR_blk3d, "k27_3"],
  [iR_blk2a, "k27_2"], [iR_blk2b, "k27_2"], [iR_blk2c, "k27_2"], [iR_blk2d, "k27_2"],
];

const FONT = "'Liberation Sans', Arial, Helvetica, sans-serif";

interface PanelCfg {
  left: number; top: number; width: number; height: number;
  area: [number, number, number, number];
  curves: Curve[]; yLabels: boolean; legend: boolean; smooth: boolean;
}

const PANELS: PanelCfg[] = [
  { left: 0, top: 0, width: 972, height: 505, area: [136.5, 11.7, 967, 456], curves: TL_CURVES, yLabels: true, legend: true, smooth: true },
  { left: 972, top: 0, width: 845, height: 505, area: [977.5, 11.5, 1810, 456], curves: TR_CURVES, yLabels: false, legend: false, smooth: false },
  { left: 0, top: 505, width: 972, height: 533, area: [136.5, 517, 967, 961], curves: BL_CURVES, yLabels: true, legend: false, smooth: true },
  { left: 972, top: 505, width: 845, height: 533, area: [977.5, 517, 1810, 961], curves: BR_CURVES, yLabels: false, legend: false, smooth: false },
];

function seg(ctx: CanvasRenderingContext2D, x1: number, y1: number, x2: number, y2: number) {
  ctx.beginPath(); ctx.moveTo(x1, y1); ctx.lineTo(x2, y2); ctx.stroke();
}

function Panel({ cfg }: { cfg: PanelCfg }) {
  const ref = useRef<HTMLCanvasElement>(null);
  useEffect(() => {
    const canvas = ref.current;
    if (!canvas) return;
    const [al, at, ar, ab] = cfg.area;
    const padding = { left: al - cfg.left, top: at - cfg.top, right: cfg.left + cfg.width - ar, bottom: cfg.top + cfg.height - ab };
    const datasets = cfg.curves.map(([pts, key]) => {
      const s = STY[key];
      return {
        data: pts.map(([x, y]) => ({ x, y })),
        borderColor: s.color,
        borderWidth: s.width,
        borderDash: s.dash,
        borderCapStyle: "butt",
        borderJoinStyle: "round",
        pointRadius: 0,
        pointHoverRadius: 0,
        fill: false,
        tension: cfg.smooth ? 0.4 : 0.22,
        cubicInterpolationMode: cfg.smooth ? "monotone" : "default",
        clip: 0,
      };
    });
    const deco = {
      id: "deco",
      afterDatasetsDraw(chart: any) {
        const ctx: CanvasRenderingContext2D = chart.ctx;
        const a = chart.chartArea;
        const xs = chart.scales.x;
        const ys = chart.scales.y;
        ctx.save();
        ctx.setLineDash([]);
        ctx.strokeStyle = "#161616";
        ctx.lineWidth = 1.6;
        ctx.strokeRect(a.left, a.top, a.right - a.left, a.bottom - a.top);
        ctx.lineWidth = 1.4;
        const n = Math.floor(X_RANGE[1] / X_MINOR_STEP + 1e-9);
        for (let i = 0; i <= n; i++) {
          const v = i * X_MINOR_STEP;
          const px = xs.getPixelForValue(v);
          const major = X_MAJOR.some((m) => Math.abs(m - v) < 1e-6);
          const len = major ? 15 : 8;
          seg(ctx, px, a.bottom, px, a.bottom - len);
          seg(ctx, px, a.top, px, a.top + len);
        }
        const yt: [number, boolean][] = [...Y_DECADES.map((v) => [v, true] as [number, boolean]), ...Y_MINOR.map((v) => [v, false] as [number, boolean])];
        yt.forEach(([v, major]) => {
          const py = ys.getPixelForValue(v);
          const len = major ? 19 : 10;
          seg(ctx, a.left, py, a.left + len, py);
          seg(ctx, a.right, py, a.right - len, py);
        });
        ctx.fillStyle = "#141414";
        ctx.font = `26px ${FONT}`;
        ctx.textAlign = "center";
        ctx.textBaseline = "middle";
        X_MAJOR.forEach((v, i) => ctx.fillText(X_TICK_LABELS[i], xs.getPixelForValue(v), a.bottom + 22));
        if (cfg.yLabels) {
          Y_DECADES.forEach((v, i) => {
            const py = ys.getPixelForValue(v);
            ctx.font = `26px ${FONT}`;
            ctx.textAlign = "right";
            ctx.textBaseline = "middle";
            ctx.fillText("10", a.left - 32, py + 1);
            ctx.font = `17px ${FONT}`;
            ctx.textAlign = "left";
            ctx.fillText(Y_EXP_LABELS[i], a.left - 27, py - 16);
          });
        }
        if (cfg.legend) {
          ctx.font = `26px ${FONT}`;
          ctx.textAlign = "left";
          ctx.textBaseline = "alphabetic";
          LEGEND_LABELS.forEach((lab, i) => {
            const s = STY[LEGEND_KEYS[i]];
            const cy = a.top + 294.5 + i * 30.5;
            ctx.strokeStyle = s.color;
            ctx.lineWidth = s.width;
            ctx.setLineDash(LEGEND_DASH[i]);
            seg(ctx, a.left + 90, cy, a.left + 127, cy);
            ctx.setLineDash([]);
            ctx.fillStyle = "#1c1c1c";
            ctx.fillText(lab, a.left + 160, cy + 11);
          });
        }
        ctx.restore();
      },
    };
    const chart = new Chart(canvas, {
      type: "line",
      data: { datasets } as any,
      options: {
        animation: false,
        responsive: false,
        maintainAspectRatio: false,
        devicePixelRatio: 1,
        events: [],
        layout: { padding },
        plugins: { legend: { display: false }, tooltip: { enabled: false } },
        scales: {
          x: { type: "linear", min: X_RANGE[0], max: X_RANGE[1], display: false },
          y: { type: "logarithmic", min: Y_RANGE[0], max: Y_RANGE[1], display: false },
        },
      } as any,
      plugins: [deco],
    });
    return () => chart.destroy();
  }, [cfg]);
  return (
    <canvas
      ref={ref}
      width={cfg.width}
      height={cfg.height}
      style={{ position: "absolute", left: cfg.left, top: cfg.top, width: cfg.width, height: cfg.height }}
    />
  );
}

const boxBase: React.CSSProperties = {
  position: "absolute",
  background: "#ffffcc",
  border: "1.5px solid #141414",
  boxSizing: "border-box",
  boxShadow: "14px 16px 12px rgba(0,0,0,0.78)",
};

const txt = (fs: number): React.CSSProperties => ({
  position: "absolute",
  fontFamily: FONT,
  fontSize: fs,
  lineHeight: `${fs}px`,
  color: "#1c1c1c",
  whiteSpace: "nowrap",
});

export default function App() {
  const serif = { fontFamily: "'Liberation Serif', 'Times New Roman', serif" };
  return (
    <div style={{ position: "fixed", left: 0, top: 0, width: 1807, height: 1038, overflow: "hidden", background: "#ffffff" }}>
      {PANELS.map((p, i) => (
        <Panel key={i} cfg={p} />
      ))}
      {/* axis titles */}
      <div
        style={{
          ...txt(44),
          left: 45,
          top: 470,
          transform: "translate(-50%, -50%) rotate(-90deg)",
          color: "#141414",
        }}
      >
        sin<span style={{ fontSize: "0.62em", position: "relative", top: "-0.78em" }}>2</span>2θ
        <span style={{ fontSize: "0.62em", position: "relative", top: "0.32em" }}>13</span>
      </div>
      <div style={{ ...txt(40), left: 553, top: 1001, transform: "translateX(-50%)", color: "#141414" }}>δ</div>
      <div style={{ ...txt(40), left: 1395, top: 1001, transform: "translateX(-50%)", color: "#141414" }}>δ</div>
      {/* panel labels */}
      <div style={{ ...txt(32), left: 799, top: 381 }}>normal</div>
      <div style={{ ...txt(32), left: 1535, top: 247 }}>normal</div>
      <div style={{ ...txt(32), left: 798, top: 885 }}>inverted</div>
      <div style={{ ...txt(32), left: 1535, top: 751 }}>inverted</div>
      {/* overlay boxes */}
      <div style={{ ...boxBase, left: 312.5, top: -60, width: 336, height: 72.7 }} />
      <div style={{ ...boxBase, left: 1289.5, top: -60, width: 145, height: 71.7 }} />
      <div style={{ ...boxBase, left: 57.5, top: 826, width: 544, height: 98 }}>
        <div style={{ ...txt(64), left: 20, top: 11.3, color: "#ff2600" }}>
          thick: 3<span style={serif}>σ</span>, thin: 2<span style={serif}>σ</span>
        </div>
      </div>
    </div>
  );
}
